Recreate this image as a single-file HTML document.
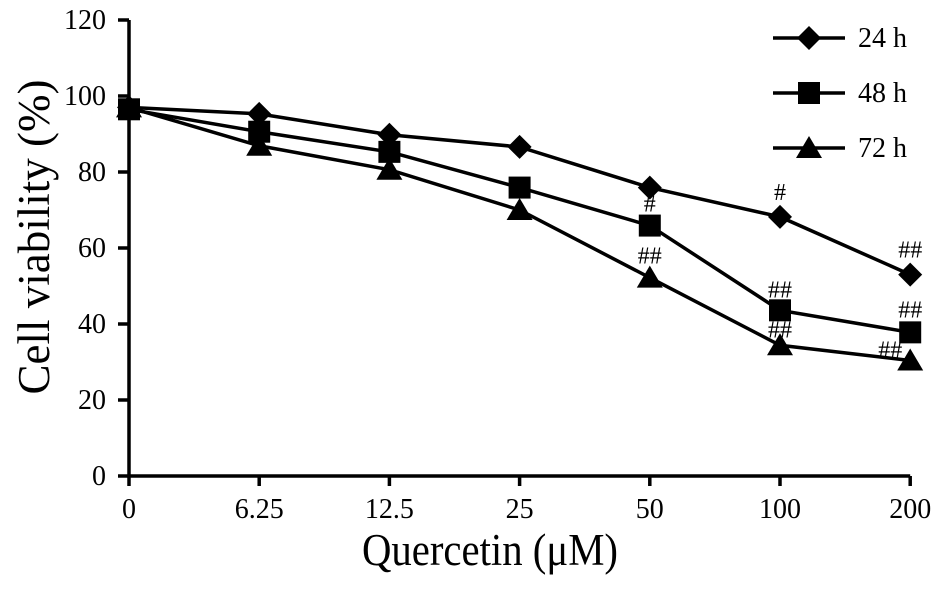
<!DOCTYPE html>
<html><head><meta charset="utf-8"><style>
body{margin:0;background:#fff}
svg text{font-family:"Liberation Serif",serif;fill:#000}
</style></head><body>
<svg id="c" width="945" height="585" xmlns="http://www.w3.org/2000/svg"></svg>
<script>
const categories=["0","6.25","12.5","25","50","100","200"];
const yTicks=[0,20,40,60,80,100,120];
const series24=[97,95.3,89.8,86.6,75.9,68.2,53];
const series48=[96.5,90.6,85.3,75.9,65.9,43.6,37.8];
const series72=[97,86.9,80.6,70,52.2,34.4,30.4];
const seriesNames=["24 h","48 h","72 h"];
const marks24=["","","","","","#","##"];
const marks48=["","","","","#","##","##"];
const marks72=["","","","","##","##","##"];

const NS="http://www.w3.org/2000/svg";
const svg=document.getElementById('c');
const X0=129,XS=130.2,Y0=476,YPX=3.8;
const xs=i=>X0+i*XS, ys=v=>Y0-v*YPX;
function el(t,a,p){const e=document.createElementNS(NS,t);for(const k in a)e.setAttribute(k,a[k]);(p||svg).appendChild(e);return e;}
const ax=el('path',{d:`M${X0},${ys(120)} V${Y0} H${xs(6)}`,stroke:'#000','stroke-width':3.5,fill:'none'});


yTicks.forEach(v=>{
 const t=el('line',{x1:X0-11,x2:X0,y1:ys(v),y2:ys(v),stroke:'#000','stroke-width':3.5});
 
 
 const l=el('text',{x:X0-23,y:ys(v)+9,'text-anchor':'end','font-size':28});l.textContent=v;
 
 
});
categories.forEach((c,i)=>{
 const t=el('line',{x1:xs(i),x2:xs(i),y1:Y0,y2:Y0+10,stroke:'#000','stroke-width':3.5});
 
 
 const l=el('text',{x:xs(i),y:518,'text-anchor':'middle','font-size':28});l.textContent=c;
 
 
});
const xt=el('text',{x:362,y:565,'font-size':45,textLength:256,lengthAdjust:'spacingAndGlyphs'});xt.textContent='Quercetin (\u03bcM)';


const yt=el('text',{x:0,y:0,'text-anchor':'middle','font-size':45,transform:'translate(49,237) rotate(-90)'});yt.textContent='Cell viability (%)';



function marker(type,x,y){
 let e;
 if(type===0)e=el('polygon',{points:`${x},${y-12} ${x+12},${y} ${x},${y+12} ${x-12},${y}`,fill:'#000'});
 else if(type===1)e=el('rect',{x:x-11,y:y-11,width:22,height:22,fill:'#000'});
 else e=el('polygon',{points:`${x},${y-12} ${x+13},${y+10} ${x-13},${y+10}`,fill:'#000'});
 return e;
}
const all=[series24,series48,series72],marks=[marks24,marks48,marks72];
const offY=[[0,0,0,0,0,-17,-17],[0,0,0,0,-14,-13,-15],[0,0,0,0,-14,-8,-3]];
const offX=[[0,0,0,0,0,0,0],[0,0,0,0,0,0,0],[0,0,0,0,0,0,-20]];
all.forEach((s,k)=>{
 const p=el('polyline',{points:s.map((v,i)=>xs(i)+','+ys(v)).join(' '),fill:'none',stroke:'#000','stroke-width':3.5});
 
 
 s.forEach((v,i)=>{
  const m=marker(k,xs(i),ys(v));
  
  
  if(marks[k][i]){
   const t=el('text',{x:xs(i)+offX[k][i],y:ys(v)+offY[k][i],'text-anchor':'middle','font-size':24});
   t.textContent=marks[k][i];
   
   
  }
 });
 const ly=38+k*55;
 const g=el('g',{});
 
 
 el('line',{x1:773,x2:845,y1:ly,y2:ly,stroke:'#000','stroke-width':3.5},g);
 g.appendChild(marker(k,809,ly));
 const lt=el('text',{x:858,y:ly+9,'font-size':28},g);lt.textContent=seriesNames[k];
});
</script>
</body></html>
